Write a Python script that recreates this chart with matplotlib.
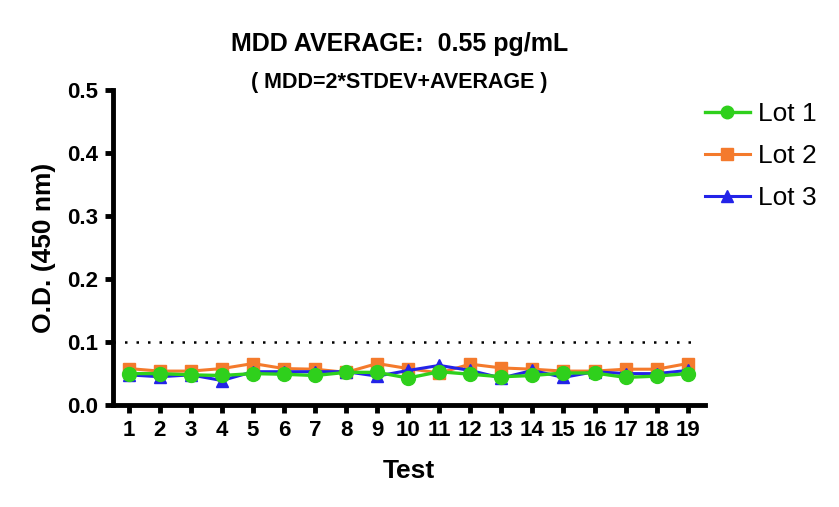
import matplotlib
matplotlib.use('Agg')
import matplotlib.pyplot as plt
import numpy as np

plt.rcParams['font.family'] = ['Liberation Sans', 'DejaVu Sans']

# data
tests = list(range(1, 20))
lot1 = [0.050, 0.050, 0.048, 0.047, 0.050, 0.049, 0.047, 0.052, 0.052, 0.043,
        0.053, 0.049, 0.045, 0.047, 0.051, 0.051, 0.044, 0.046, 0.050]
lot2 = [0.058, 0.054, 0.054, 0.058, 0.066, 0.058, 0.057, 0.052, 0.066, 0.058,
        0.051, 0.065, 0.059, 0.057, 0.054, 0.054, 0.057, 0.057, 0.066]
lot3 = [0.048, 0.045, 0.048, 0.039, 0.053, 0.053, 0.053, 0.053, 0.046, 0.055,
        0.063, 0.055, 0.043, 0.055, 0.044, 0.053, 0.050, 0.050, 0.055]
mdd_line = 0.1

fig = plt.figure(figsize=(8.39, 5.07), dpi=100)
ax = fig.add_axes([0.135, 0.201, 0.705, 0.621])

ax.axhline(mdd_line, xmax=0.985, color='black', linestyle=(0, (1, 3.6)), linewidth=1.8, zorder=1)

ax.plot(tests, lot3, color='#2323e8', marker='^', markersize=9, linewidth=2.2, label='Lot 3', zorder=3)
ax.plot(tests, lot2, color='#f47a2c', marker='s', markersize=9, linewidth=2.2, label='Lot 2', zorder=2)
ax.plot(tests, lot1, color='#2fd01c', marker='o', markersize=10, linewidth=2.4, label='Lot 1', zorder=4)

ax.set_xlim(0.5, 19.55)
ax.set_ylim(0, 0.5)
ax.set_xticks(tests)
ax.set_yticks([0.0, 0.1, 0.2, 0.3, 0.4, 0.5])
ax.set_yticklabels(['0.0', '0.1', '0.2', '0.3', '0.4', '0.5'])

for s in ['top', 'right']:
    ax.spines[s].set_visible(False)
for s in ['left', 'bottom']:
    ax.spines[s].set_linewidth(3.5)
ax.tick_params(axis='both', width=3.5, length=6, labelsize=16, pad=5)
for lbl in ax.get_xticklabels() + ax.get_yticklabels():
    lbl.set_fontweight('bold')

ax.set_xlabel('Test', fontsize=19, fontweight='bold', labelpad=13)
ax.set_ylabel('O.D. (450 nm)', fontsize=19, fontweight='bold', labelpad=8)

fig.text(0.476, 0.913, 'MDD AVERAGE:  0.55 pg/mL', ha='center', va='center',
         fontsize=18, fontweight='bold')
fig.text(0.476, 0.838, '( MDD=2*STDEV+AVERAGE )', ha='center', va='center',
         fontsize=15.5, fontweight='bold')

handles, labels = ax.get_legend_handles_labels()
order = [2, 1, 0]
ax.legend([handles[i] for i in order], [labels[i] for i in order],
          loc='upper left', bbox_to_anchor=(1.0, 0.962), frameon=False,
          borderaxespad=0, borderpad=0,
          fontsize=19, handlelength=1.7, handletextpad=0.3, labelspacing=0.68,
          markerscale=0.9)

fig.savefig('out.png', dpi=100)
